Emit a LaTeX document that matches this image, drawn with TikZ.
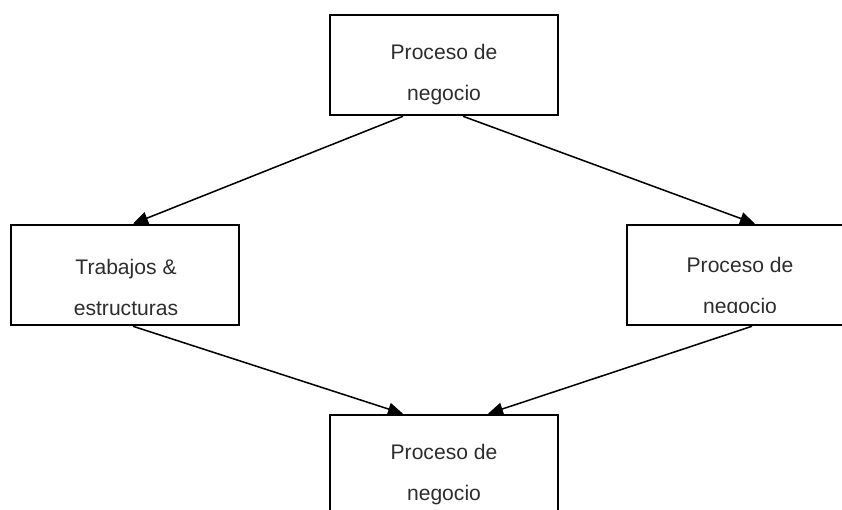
\documentclass[tikz,border=0pt]{standalone}
\usepackage{fontspec}
\setmainfont{Liberation Sans}
\usetikzlibrary{arrows.meta,positioning}
\definecolor{txtgray}{RGB}{45,45,45}
\tikzstyle{box} = [draw, line width=1.6pt, minimum width=6.84cm, minimum height=3.02cm, inner sep=0pt]
\tikzstyle{boxtext} = [align=center, text=txtgray, font=\fontsize{18}{35}\selectfont]
\tikzstyle{arrow} = [line width=1.3pt, -{Triangle[length=0.45cm,width=0.38cm]}]

\begin{document}
\begin{tikzpicture}[x=0.03cm, y=-0.03cm]
\useasboundingbox (0,0) rectangle (842,510);
\clip (0,0) rectangle (842,510);

% Boxes
\node[box] (proctop) at (444,65) {};
\node[box] (trabajos) at (125,275) {};
\node[box] (procright) at (741,275) {};
\node[box] (procbottom) at (444,465) {};

% Texts
\node[boxtext] (proctoptext) at (444,75) {Proceso de\\negocio};
\node[boxtext] (trabajostext) at (126,287) {Trabajos \&\\estructuras};
\begin{scope}
\clip (600,200) rectangle (842,312);
\node[boxtext] (procrighttext) at (740,288) {Proceso de\\negocio};
\end{scope}
\node[boxtext] (procbottomtext) at (444,475) {Proceso de\\negocio};

% Arrows
\draw[arrow] ([xshift=-1.23cm]proctop.south) -- ([xshift=0.24cm]trabajos.north);
\draw[arrow] ([xshift=0.57cm]proctop.south) -- ([xshift=0.42cm]procright.north);
\draw[arrow] ([xshift=0.24cm]trabajos.south) -- ([xshift=-1.23cm]procbottom.north);
\draw[arrow] ([xshift=0.33cm]procright.south) -- ([xshift=1.32cm]procbottom.north);
\end{tikzpicture}
\end{document}
